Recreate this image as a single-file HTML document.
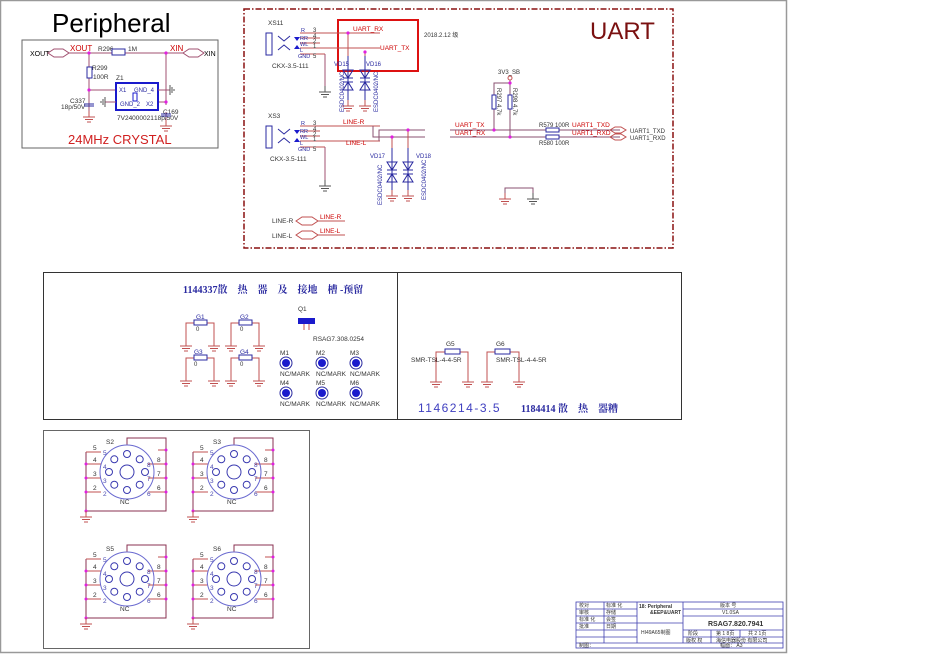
<!DOCTYPE html>
<html><head><meta charset="utf-8"><style>
html,body{margin:0;padding:0;background:#fff}
svg{display:block}
text{font-family:"Liberation Sans","Noto Sans CJK SC",sans-serif}
.s{font-family:"Liberation Serif","Noto Serif CJK SC",serif}
</style></head><body>
<svg width="950" height="672" viewBox="0 0 950 672" xmlns="http://www.w3.org/2000/svg">
<defs>
<g id="gnd" stroke="#c05050" stroke-width="1" fill="none"><path d="M0 0V6M-6 6H6M-4 8.5H4M-2 11H2"/></g>
<g id="gndb" stroke="#555" stroke-width="1" fill="none"><path d="M0 0V6M-6 6H6M-4 8.5H4M-2 11H2"/></g>
<g id="tvs" stroke="#2a2aa0" stroke-width="1" fill="none"><path d="M-5 0H5L0 8Z M-5 8H5 M-5 20H5L0 12Z M-5 12H5 M0 -14V30"/></g>
</defs>
<rect x="0.5" y="0.5" width="786" height="652" fill="none" stroke="#999" stroke-width="1.5"/>

<text x="52" y="32" font-size="26">Peripheral</text>
<rect x="22" y="40" width="196" height="108" fill="none" stroke="#666" stroke-width="1"/>
<g font-size="7">
<text x="30" y="56">XOUT</text><text x="204" y="56">XIN</text>
</g>
<g stroke="#a05070" fill="none" stroke-width="1">
<path d="M48 53l6-4h9l6 4-6 4h-9z M183 53l6-4h9l6 4-6 4h-9z"/>
<path d="M69 53H183 M89 53V67 M89 78V111 M89 90H116 M166 53V105 M158 102H166 M89 104V111"/>
<path d="M166 112V120"/>
</g>
<g fill="#cc0000" font-size="8"><text x="70" y="51">XOUT</text><text x="170" y="51">XIN</text></g>
<g font-size="6.5" fill="#333"><text x="98" y="51">R296</text><text x="128" y="51">1M</text>
<text x="92" y="70">R299</text><text x="93" y="79">100R</text><text x="116" y="80">Z1</text>
<text x="70" y="103">C337</text><text x="61" y="109">18p/50V</text>
<text x="163" y="114">C169</text><text x="154" y="120">18p/50V</text>
<text x="117" y="120">7V24000021</text></g>
<rect x="112" y="49" width="13" height="6" fill="#fff" stroke="#2a2aa0"/>
<rect x="87" y="67" width="5" height="11" fill="#fff" stroke="#2a2aa0"/>
<rect x="116" y="83" width="42" height="27" fill="#fff" stroke="#1a1acc" stroke-width="2"/>
<g font-size="6" fill="#2a2aa0"><text x="119" y="92">X1</text><text x="134" y="92">GND_4</text><text x="120" y="106">GND_2</text><text x="146" y="106">X2</text></g>
<rect x="133" y="93" width="4" height="8" fill="none" stroke="#1a1acc"/>
<path d="M84 104H94M84 106H94 M161 114H171M161 116H171" stroke="#2a2aa0"/>
<path d="M158 90H170 M105 102H116" stroke="#a05070"/>
<path d="M170 85V95M172 87V93M174 89V91 M105 97V107M103 99V105M101 101V103" stroke="#555"/>
<use href="#gnd" x="89" y="111"/><use href="#gnd" x="166" y="120"/>
<g fill="#e020e0"><circle cx="89" cy="53" r="1.6"/><circle cx="166" cy="53" r="1.6"/><circle cx="89" cy="90" r="1.6"/><circle cx="166" cy="102" r="1.6"/></g>
<text x="68" y="144" font-size="13" fill="#d02020">24MHz CRYSTAL</text>

<rect x="244" y="9" width="429" height="239" fill="none" stroke="#8a1010" stroke-width="1.5" stroke-dasharray="6,2,1.5,2"/>
<text x="590" y="39" font-size="24" fill="#7a1010">UART</text>
<text x="424" y="37" font-size="6" fill="#333">2018.2.12   级</text>
<rect x="338" y="20" width="80" height="51" fill="none" stroke="#dd1111" stroke-width="2"/>

<g font-size="6.5" fill="#333"><text x="268" y="25">XS11</text><text x="272" y="68">CKX-3.5-111</text>
<text x="268" y="118">XS3</text><text x="270" y="161">CKX-3.5-111</text></g>
<g id="jack">
<rect x="266" y="33" width="6" height="22" fill="none" stroke="#2a2aa0"/>
<path d="M278 36l6 5 6-5 M278 50l6-5 6 5" stroke="#2a2aa0" fill="none"/>
<path d="M294 37h6l-3 4z M294 49h6l-3-4z" fill="#1a1acc"/>
<g stroke="#c05050"><path d="M300 33H380 M300 38H320 M300 43H320 M300 48H380 M300 54H325"/></g>
<g font-size="5.5" fill="#2a2aa0"><text x="301" y="32">R</text><text x="300" y="40">RR</text><text x="300" y="46">WL</text><text x="300" y="52">L</text><text x="298" y="58">GND</text></g>
<g font-size="6" fill="#333"><text x="313" y="32">3</text><text x="313" y="38">4</text><text x="313" y="43">2</text><text x="313" y="48">1</text><text x="313" y="58">5</text></g>
</g>
<use href="#jack" x="0" y="93"/>
<path d="M325 54V86" stroke="#a05070"/><use href="#gndb" x="325" y="86"/>
<path d="M325 147V180" stroke="#a05070"/><use href="#gndb" x="325" y="180"/>
<g fill="#cc0000" font-size="6.5"><text x="353" y="31">UART_RX</text><text x="380" y="50">UART_TX</text>
<text x="343" y="124">LINE-R</text><text x="346" y="145">LINE-L</text></g>
<path d="M348 33V68 M365 52V68" stroke="#c05050"/>
<use href="#tvs" x="348" y="70"/><use href="#tvs" x="365" y="70"/>
<use href="#gnd" x="348" y="100"/><use href="#gnd" x="365" y="100"/>
<g fill="#e020e0"><circle cx="348" cy="33" r="1.6"/><circle cx="365" cy="52" r="1.6"/></g>
<g font-size="6" class="s" fill="#2a2aa0"><text x="334" y="66">VD15</text><text x="366" y="66">VD16</text></g>
<g font-size="6" class="s" fill="#2a2aa0"><text transform="translate(344 112) rotate(-90)">ESDC0402/NC</text><text transform="translate(378 112) rotate(-90)">ESDC0402/NC</text></g>
<path d="M373 126V137H425 M379 141V130H425" stroke="#8a5070" fill="none"/>
<path d="M392 137V160 M408 130V160" stroke="#c05050"/>
<use href="#tvs" x="392" y="162"/><use href="#tvs" x="408" y="162"/>
<use href="#gnd" x="392" y="190"/><use href="#gnd" x="408" y="190"/>
<g fill="#e020e0"><circle cx="392" cy="137" r="1.6"/><circle cx="408" cy="130" r="1.6"/></g>
<g font-size="6" class="s" fill="#2a2aa0"><text x="370" y="158">VD17</text><text x="416" y="158">VD18</text>
<text transform="translate(382 205) rotate(-90)">ESDC0402/NC</text><text transform="translate(426 200) rotate(-90)">ESDC0402/NC</text></g>
<g font-size="6.5" fill="#333"><text x="272" y="223">LINE-R</text><text x="272" y="238">LINE-L</text></g>
<path d="M296 221l6-4h10l6 4-6 4h-10z M296 235l6-4h10l6 4-6 4h-10z" fill="none" stroke="#c05050"/>
<path d="M318 221H345 M318 235H345" stroke="#c05050"/>
<g fill="#cc0000" font-size="6.5"><text x="320" y="219">LINE-R</text><text x="320" y="233">LINE-L</text></g>
<path d="M450 130H620 M450 137H620" stroke="#8a5070"/>
<path d="M494 130V83H510 M510 137V80" stroke="#8a5070" fill="none"/>
<circle cx="510" cy="78" r="2" fill="none" stroke="#c05050"/>
<rect x="492" y="95" width="4" height="14" fill="#fff" stroke="#2a2aa0"/>
<rect x="508" y="95" width="4" height="14" fill="#fff" stroke="#2a2aa0"/>
<rect x="546" y="128" width="13" height="4" fill="#fff" stroke="#2a2aa0"/>
<rect x="546" y="135" width="13" height="4" fill="#fff" stroke="#2a2aa0"/>
<g fill="#e020e0"><circle cx="494" cy="130" r="1.6"/><circle cx="510" cy="137" r="1.6"/><circle cx="510" cy="83" r="1.6"/></g>
<g font-size="6" fill="#333"><text x="498" y="74">3V3_SB</text><text x="539" y="127">R579  100R</text><text x="539" y="145">R580  100R</text>
<text x="630" y="133">UART1_TXD</text><text x="630" y="140">UART1_RXD</text>
<text transform="translate(497 88) rotate(90)">R297    4.7k</text><text transform="translate(513 88) rotate(90)">R298    4.7k</text></g>
<g fill="#cc0000" font-size="6.5"><text x="455" y="127">UART_TX</text><text x="455" y="135">UART_RX</text><text x="572" y="127">UART1_TXD</text><text x="572" y="135">UART1_RXD</text></g>
<path d="M610 130l5-3h6l5 3-5 3h-6z M610 137l5-3h6l5 3-5 3h-6z" fill="none" stroke="#c05050"/>
<path d="M505 197V188H533V197" stroke="#8a5070" fill="none"/>
<use href="#gnd" x="505" y="193"/><use href="#gndb" x="533" y="193"/>

<rect x="43.5" y="272.5" width="638" height="147" fill="none" stroke="#333"/>
<path d="M397.5 272V420" stroke="#333"/>
<text x="183" y="293" font-size="10" class="s" fill="#2a2aa0" font-weight="bold">1144337散　热　器　及　接地　槽 -预留</text>
<g id="gr">
<path d="M186 343V323H194 M207 323H214V343" stroke="#c05050" fill="none"/>
<rect x="194" y="320" width="13" height="5" fill="#fff" stroke="#2a2aa0"/>
<use href="#gnd" x="186" y="340"/><use href="#gnd" x="214" y="340"/>
</g>
<use href="#gr" x="45" y="0"/><use href="#gr" x="0" y="35"/><use href="#gr" x="45" y="35"/>
<g font-size="6.5" class="s" fill="#2a2aa0"><text x="196" y="319">G1</text><text x="240" y="319">G2</text><text x="194" y="354">G3</text><text x="240" y="354">G4</text></g>
<g font-size="6" fill="#333"><text x="196" y="331">0</text><text x="240" y="331">0</text><text x="194" y="366">0</text><text x="240" y="366">0</text></g>
<text x="298" y="311" font-size="6.5" fill="#333">Q1</text>
<rect x="298" y="318" width="17" height="6" fill="#1a1acc"/>
<path d="M304 324V330M309 324V330" stroke="#c05050"/>
<text x="313" y="341" font-size="6.5" fill="#333">RSAG7.308.0254</text>
<g id="mk"><circle cx="286" cy="363" r="6" fill="none" stroke="#2a2aa0"/><circle cx="286" cy="363" r="4" fill="#1a1acc"/></g>
<use href="#mk" x="36"/><use href="#mk" x="70"/><use href="#mk" y="30"/><use href="#mk" x="36" y="30"/><use href="#mk" x="70" y="30"/>
<g font-size="6.5" fill="#333"><text x="280" y="355">M1</text><text x="316" y="355">M2</text><text x="350" y="355">M3</text>
<text x="280" y="385">M4</text><text x="316" y="385">M5</text><text x="350" y="385">M6</text>
<text x="280" y="376">NC/MARK</text><text x="316" y="376">NC/MARK</text><text x="350" y="376">NC/MARK</text>
<text x="280" y="406">NC/MARK</text><text x="316" y="406">NC/MARK</text><text x="350" y="406">NC/MARK</text></g>
<path d="M436 377V352H445 M460 352H468V377 M487 377V352H495 M510 352H519V377" stroke="#c05050" fill="none"/>
<rect x="445" y="349" width="15" height="5" fill="#fff" stroke="#2a2aa0"/><rect x="495" y="349" width="15" height="5" fill="#fff" stroke="#2a2aa0"/>
<use href="#gnd" x="436" y="376"/><use href="#gnd" x="468" y="376"/><use href="#gnd" x="487" y="376"/><use href="#gnd" x="519" y="376"/>
<g font-size="6.5" fill="#333"><text x="446" y="346">G5</text><text x="496" y="346">G6</text><text x="411" y="362">SMR-TSL-4-4-5R</text><text x="496" y="362">SMR-TSL-4-4-5R</text></g>
<text x="418" y="412" font-size="12" fill="#4040c0" letter-spacing="1.5" font-family="Liberation Mono,monospace">1146214-3.5</text>
<text x="521" y="412" font-size="10" class="s" fill="#2a2aa0" font-weight="bold">1184414 散　热　器糟</text>

<rect x="43.5" y="430.5" width="266" height="218" fill="none" stroke="#666"/>
<g id="sk">
<path d="M86 452V511H166V438H127V445" stroke="#8a3050" fill="none"/>
<path d="M86 452H101M86 464H101M86 478H101M86 492H101 M148 464H166M148 478H166M148 492H166M158 450H166" stroke="#c05050"/>
<circle cx="127" cy="472" r="27" fill="none" stroke="#6a6ad0"/>
<circle cx="127" cy="472" r="7" fill="none" stroke="#3a3ab0"/>
<g fill="none" stroke="#3a3ab0"><circle cx="127" cy="454" r="3.5"/><circle cx="139.7" cy="459.3" r="3.5"/><circle cx="145" cy="472" r="3.5"/><circle cx="139.7" cy="484.7" r="3.5"/><circle cx="127" cy="490" r="3.5"/><circle cx="114.3" cy="484.7" r="3.5"/><circle cx="109" cy="472" r="3.5"/><circle cx="114.3" cy="459.3" r="3.5"/></g>
<g fill="#e020e0"><circle cx="86" cy="464" r="1.5"/><circle cx="86" cy="478" r="1.5"/><circle cx="86" cy="492" r="1.5"/><circle cx="86" cy="511" r="1.5"/><circle cx="166" cy="450" r="1.5"/><circle cx="166" cy="464" r="1.5"/><circle cx="166" cy="478" r="1.5"/><circle cx="166" cy="492" r="1.5"/></g>
<use href="#gnd" x="86" y="511"/>
<g font-size="6.5" fill="#333"><text x="93" y="450">5</text><text x="93" y="462">4</text><text x="93" y="476">3</text><text x="93" y="490">2</text><text x="157" y="462">8</text><text x="157" y="476">7</text><text x="157" y="490">6</text><text x="120" y="504">NC</text></g>
<g font-size="6.5" fill="#4a4ab0"><text x="103" y="455">5</text><text x="103" y="469">4</text><text x="103" y="483">3</text><text x="103" y="496">2</text><text x="147" y="467">8</text><text x="147" y="481">7</text><text x="147" y="496">6</text></g>
</g>
<use href="#sk" x="107"/><use href="#sk" y="107"/><use href="#sk" x="107" y="107"/>
<g font-size="6.5" fill="#333"><text x="106" y="444">S2</text><text x="213" y="444">S3</text><text x="106" y="551">S5</text><text x="213" y="551">S6</text></g>

<g stroke="#4040b0" fill="none" stroke-width="0.8">
<rect x="576" y="602" width="207" height="46"/>
<path d="M576 609H637M576 616H637M576 623H637M576 630H637M576 637H637M576 643H783 M683 609H783M683 616H783M683 630H783M683 637H783 M604 602V643M637 602V643M683 602V643 M711 630V643M740 630V637 M637 623H683"/>
</g>
<g font-size="5" fill="#333">
<text x="579" y="607">校对</text><text x="606" y="607">标准 化</text><text x="579" y="614">审核</text><text x="606" y="614">存储</text><text x="579" y="621">标准 化</text><text x="606" y="621">会签</text><text x="579" y="628">批准</text><text x="606" y="628">日期</text><text x="579" y="647">制图：</text>
<text x="639" y="608" font-weight="bold" font-family="Liberation Mono,monospace">18: Peripheral</text><text x="650" y="614" font-weight="bold">&amp;EEP&amp;UART</text>
<text x="641" y="634">HI49A65制图</text>
<text x="720" y="607">版本 号</text><text x="722" y="614">V1.0SA</text>
<text x="708" y="626" font-size="7" font-weight="bold" font-family="Liberation Mono,monospace">RSAG7.820.7941</text>
<text x="688" y="635">阶段</text><text x="716" y="635">第 1 8页</text><text x="748" y="635">共 2 1页</text>
<text x="686" y="642">版权 权</text><text x="716" y="642">海信电器股份 有限公司</text>
<text x="720" y="647">幅面： A3</text>
</g>
</svg>
</body></html>
